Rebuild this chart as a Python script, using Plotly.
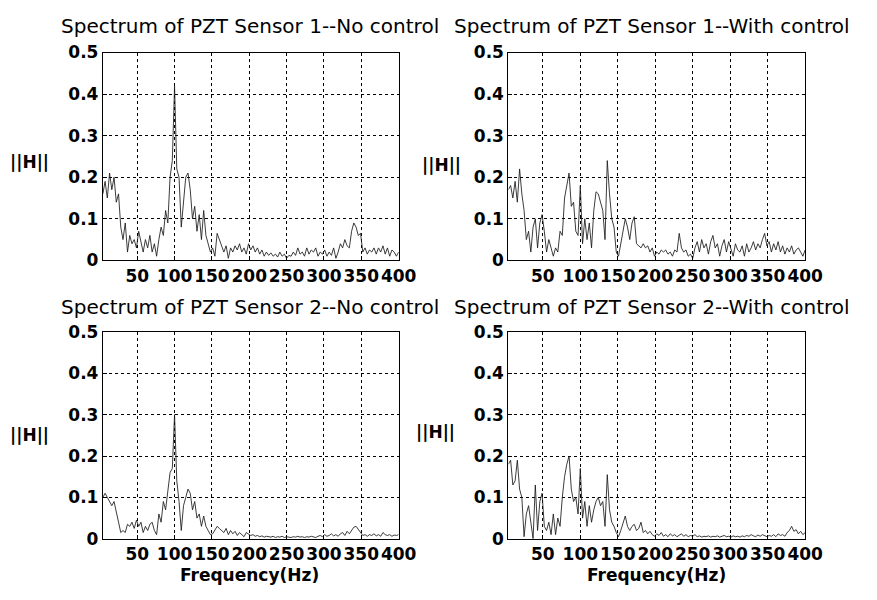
import plotly.graph_objects as go

F_START, F_STEP, F_COUNT = 4, 3, 133
freq = [F_START + F_STEP * i for i in range(F_COUNT)]

sensor1_no_control = [
    0.16, 0.19, 0.15, 0.21, 0.17, 0.20, 0.14, 0.16, 0.08, 0.05,
    0.09, 0.02, 0.06, 0.04, 0.05, 0.03, 0.07, 0.04, 0.02, 0.05,
    0.03, 0.06, 0.02, 0.04, 0.01, 0.05, 0.08, 0.06, 0.12, 0.09,
    0.20, 0.24, 0.42, 0.22, 0.20, 0.08, 0.15, 0.20, 0.21, 0.17,
    0.10, 0.13, 0.07, 0.11, 0.05, 0.12, 0.06, 0.04, 0.02, 0.03,
    0.01, 0.065, 0.05, 0.04, 0.02, 0.035, 0.005, 0.03, 0.02, 0.035,
    0.025, 0.04, 0.02, 0.03, 0.015, 0.04, 0.025, 0.035, 0.02, 0.03,
    0.015, 0.025, 0.01, 0.02, 0.012, 0.018, 0.01, 0.015, 0.008, 0.02,
    0.01, 0.015, 0.005, 0.012, 0.01, 0.02, 0.012, 0.03, 0.015, 0.02,
    0.01, 0.03, 0.015, 0.025, 0.02, 0.03, 0.01, 0.02, 0.015, 0.025,
    0.01, 0.02, 0.012, 0.03, 0.005, 0.02, 0.04, 0.03, 0.05, 0.035,
    0.03, 0.07, 0.09, 0.08, 0.06, 0.065, 0.02, 0.03, 0.015, 0.025,
    0.02, 0.03, 0.015, 0.03, 0.02, 0.035, 0.015, 0.03, 0.01, 0.025,
    0.02, 0.01, 0.02,
]

sensor1_with_control = [
    0.17, 0.18, 0.15, 0.19, 0.14, 0.22, 0.16, 0.12, 0.05, 0.07,
    0.02, 0.08, 0.10, 0.03, 0.09, 0.11, 0.07, 0.02, 0.05, 0.03,
    0.01, 0.03, 0.02, 0.07, 0.06, 0.15, 0.18, 0.21, 0.13, 0.14,
    0.07, 0.06, 0.18, 0.04, 0.10, 0.05, 0.09, 0.03, 0.12, 0.165,
    0.16, 0.14, 0.12, 0.05, 0.24, 0.16, 0.10, 0.08, 0.02, 0.01,
    0.04, 0.06, 0.10, 0.08, 0.05, 0.09, 0.105, 0.04, 0.035, 0.03,
    0.04, 0.03, 0.035, 0.02, 0.03, 0.01, 0.02, 0.015, 0.025, 0.02,
    0.025, 0.015, 0.02, 0.01, 0.025, 0.02, 0.065, 0.03, 0.02, 0.025,
    0.01, 0.015, 0.005, 0.03, 0.045, 0.02, 0.05, 0.03, 0.04, 0.015,
    0.045, 0.06, 0.03, 0.04, 0.01, 0.035, 0.05, 0.02, 0.045, 0.03,
    0.01, 0.04, 0.025, 0.02, 0.035, 0.01, 0.04, 0.02, 0.03, 0.045,
    0.025, 0.04, 0.03, 0.05, 0.065, 0.035, 0.045, 0.02, 0.04, 0.025,
    0.045, 0.02, 0.035, 0.015, 0.03, 0.02, 0.035, 0.015, 0.025, 0.03,
    0.02, 0.01, 0.025,
]

sensor2_no_control = [
    0.10, 0.11, 0.10, 0.09, 0.08, 0.09, 0.06, 0.04, 0.015, 0.02,
    0.015, 0.035, 0.03, 0.04, 0.025, 0.045, 0.03, 0.04, 0.015, 0.03,
    0.02, 0.035, 0.04, 0.02, 0.01, 0.06, 0.04, 0.09, 0.07, 0.12,
    0.16, 0.17, 0.30, 0.14, 0.09, 0.02, 0.08, 0.10, 0.12, 0.11,
    0.07, 0.09, 0.05, 0.06, 0.03, 0.055, 0.03, 0.02, 0.01, 0.012,
    0.02, 0.03, 0.025, 0.02, 0.015, 0.025, 0.01, 0.02, 0.012, 0.018,
    0.008, 0.015, 0.01, 0.005, 0.015, 0.012, 0.008, 0.01, 0.006, 0.008,
    0.005, 0.007, 0.004, 0.006, 0.005, 0.004, 0.006, 0.003, 0.005, 0.004,
    0.006, 0.003, 0.005, 0.004, 0.003, 0.005, 0.004, 0.006, 0.004, 0.005,
    0.003, 0.005, 0.004, 0.006, 0.005, 0.003, 0.006, 0.008, 0.005, 0.01,
    0.006, 0.008, 0.012, 0.007, 0.01, 0.006, 0.012, 0.015, 0.008, 0.018,
    0.012, 0.02, 0.028, 0.03, 0.022, 0.015, 0.008, 0.01, 0.006, 0.01,
    0.008, 0.012, 0.007, 0.01, 0.006, 0.015, 0.01, 0.008, 0.01, 0.006,
    0.009, 0.008, 0.01,
]

sensor2_with_control = [
    0.18, 0.19, 0.13, 0.14, 0.19, 0.12, 0.10, 0.005, 0.06, 0.08,
    0.04, 0.0, 0.13, 0.02, 0.09, 0.11, 0.03, 0.02, 0.04, 0.01,
    0.06, 0.01, 0.05, 0.03, 0.10, 0.15, 0.18, 0.20, 0.12, 0.09,
    0.10, 0.06, 0.17, 0.05, 0.09, 0.03, 0.08, 0.04, 0.07, 0.09,
    0.10, 0.08, 0.09, 0.03, 0.155, 0.07, 0.04, 0.03, 0.015, 0.005,
    0.02, 0.04, 0.055, 0.03, 0.02, 0.03, 0.035, 0.02, 0.025, 0.04,
    0.015, 0.02, 0.012, 0.018, 0.01, 0.006, 0.012, 0.008, 0.015, 0.006,
    0.01, 0.005, 0.012, 0.007, 0.01, 0.005, 0.008, 0.012, 0.006, 0.01,
    0.005, 0.008, 0.006, 0.01, 0.005, 0.007, 0.004, 0.006, 0.005, 0.007,
    0.004, 0.006, 0.005, 0.007, 0.004, 0.006, 0.008, 0.005, 0.006, 0.004,
    0.007, 0.005, 0.006, 0.004, 0.007, 0.005, 0.008, 0.006, 0.01, 0.007,
    0.005, 0.009, 0.006, 0.01, 0.007, 0.005, 0.008, 0.006, 0.01, 0.005,
    0.012, 0.008, 0.01, 0.006, 0.015, 0.02, 0.03, 0.018, 0.022, 0.012,
    0.018, 0.01, 0.015,
]

titles = [
    "Spectrum of PZT Sensor 1--No control",
    "Spectrum of PZT Sensor 1--With control",
    "Spectrum of PZT Sensor 2--No control",
    "Spectrum of PZT Sensor 2--With control",
]
x_ticks = [50, 100, 150, 200, 250, 300, 350, 400]
x_tick_text = ["50", "100", "150", "200", "250", "300", "350", "400"]
y_ticks = [0, 0.1, 0.2, 0.3, 0.4, 0.5]
y_tick_text = ["0", "0.1", "0.2", "0.3", "0.4", "0.5"]
y_label = "||H||"
x_label = "Frequency(Hz)"

series = [sensor1_no_control, sensor1_with_control,
          sensor2_no_control, sensor2_with_control]
for s in series:
    assert len(s) == F_COUNT, len(s)

W, H = 877, 600
# panel pixel boxes: (left, right, top, bottom)
boxes = [(105, 407, 44, 259), (519, 822, 44, 259),
         (105, 407, 333, 547), (519, 822, 333, 547)]

fig = go.Figure()
tick_font = dict(family="DejaVu Sans", size=17, color="black", weight="bold")

for i, (vals, box) in enumerate(zip(series, boxes)):
    n = "" if i == 0 else str(i + 1)
    fig.add_trace(go.Scatter(x=freq, y=vals, mode="lines",
                             line=dict(color="#1a1a1a", width=0.85),
                             xaxis="x" + n, yaxis="y" + n, showlegend=False,
                             hoverinfo="skip"))
    l, r, t, b = box
    common = dict(showline=True, linecolor="black", linewidth=1, mirror=True,
                  showgrid=True, gridcolor="black", gridwidth=1, griddash="dot",
                  zeroline=False, ticks="inside", ticklen=4, tickcolor="black",
                  tickfont=tick_font, tickangle=0)
    fig.layout["xaxis" + n] = dict(domain=[l / W, r / W], anchor="y" + n,
                                   range=[4, 400], tickvals=x_ticks,
                                   ticktext=x_tick_text, **common)
    fig.layout["yaxis" + n] = dict(domain=[1 - b / H, 1 - t / H], anchor="x" + n,
                                   range=[0, 0.5], tickvals=y_ticks,
                                   ticktext=y_tick_text, **common)

annotations = []
title_pos = [(255, 17), (666, 17), (255, 307), (666, 307)]
for txt, (px, py) in zip(titles, title_pos):
    annotations.append(dict(text=txt, x=px / W, y=1 - py / H,
                            xref="paper", yref="paper", showarrow=False,
                            xanchor="center", yanchor="middle",
                            font=dict(family="DejaVu Sans", size=20, color="black")))
ylab_pos = [(30, 157), (451, 160), (30, 440), (445, 437)]
for (px, py) in ylab_pos:
    annotations.append(dict(text=y_label, x=px / W, y=1 - py / H,
                            xref="paper", yref="paper", showarrow=False,
                            xanchor="center", yanchor="middle", font=tick_font))
for px in (255, 670):
    annotations.append(dict(text=x_label, x=px / W, y=1 - 584 / H,
                            xref="paper", yref="paper", showarrow=False,
                            xanchor="center", yanchor="middle", font=tick_font))

fig.update_layout(width=W, height=H, margin=dict(l=0, r=0, t=0, b=0),
                  paper_bgcolor="white", plot_bgcolor="white",
                  annotations=annotations)

fig.write_html("out.html")
